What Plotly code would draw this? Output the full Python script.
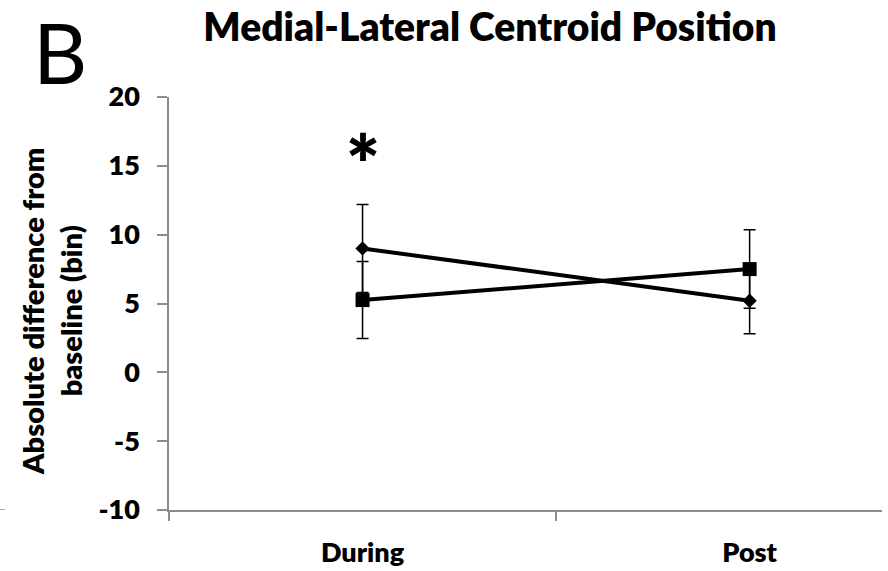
import plotly.graph_objects as go

categories = ["During", "Post"]
cat_pos = [0, 1]
diamond_vals = [9.0, 5.2]
diamond_err = [3.2, 2.4]
square_vals = [5.25, 7.5]
square_err = [2.8, 2.85]
y_ticks = [-10, -5, 0, 5, 10, 15, 20]
y_tick_text = ["-10", "-5", "0", "5", "10", "15", "20"]
x_dividers = [-0.5, 0.5]

FONT = "Lato"
GRAY = "#8c8c8c"
W = 800

fig = go.Figure()
fig.add_trace(go.Scatter(
    x=cat_pos, y=diamond_vals, mode="lines+markers",
    line=dict(color="black", width=4),
    marker=dict(symbol="diamond", size=11, color="black"),
    error_y=dict(type="data", array=diamond_err, visible=True, color="black", thickness=1.5, width=6),
    showlegend=False, cliponaxis=False,
))
fig.add_trace(go.Scatter(
    x=cat_pos, y=square_vals, mode="lines+markers",
    line=dict(color="black", width=4),
    marker=dict(symbol="square", size=14, color="black"),
    error_y=dict(type="data", array=square_err, visible=True, color="black", thickness=1.5, width=6),
    showlegend=False, cliponaxis=False,
))

xr = [-0.5, 1.342]
fig.update_layout(
    width=888, height=571,
    margin=dict(l=169, r=6, t=97, b=61, autoexpand=False),
    plot_bgcolor="white", paper_bgcolor="white",
    font=dict(family=FONT, color="black"),
    title=dict(text="Medial-Lateral Centroid Position", x=490/888, xanchor="center",
               xref="container", yref="container", y=1-14/571, yanchor="top",
               font=dict(family=FONT, size=39, weight=W, color="black")),
    xaxis=dict(range=xr, tickvals=cat_pos, ticktext=categories, ticks="",
               showline=True, linecolor=GRAY, linewidth=1.5, showgrid=False, zeroline=False,
               automargin=False,
               tickfont=dict(family=FONT, size=27, weight=W, color="black"),
               ticklabelstandoff=18),
    xaxis2=dict(range=xr, overlaying="x", anchor="y", side="bottom", tickvals=x_dividers,
                ticks="outside", ticklen=10, tickwidth=1.5, tickcolor=GRAY, automargin=False,
                showticklabels=False, showline=False, showgrid=False, zeroline=False),
    yaxis=dict(range=[-10, 20], tickvals=y_ticks, ticktext=y_tick_text, ticks="outside",
               ticklen=10, tickwidth=1.5, automargin=False,
               tickcolor=GRAY, showline=True, linecolor=GRAY, linewidth=1.5,
               showgrid=False, zeroline=False,
               tickfont=dict(family=FONT, size=27, weight=W, color="black"),
               ticklabelstandoff=12),
)
# invisible trace so the divider-tick axis renders
fig.add_trace(go.Scatter(x=[xr[0]], y=[-10], xaxis="x2", mode="markers",
                         marker=dict(opacity=0), showlegend=False, hoverinfo="skip"))

fig.add_annotation(text="Absolute difference from<br>baseline (bin)", textangle=-90,
                   xref="paper", yref="paper", x=(51-169)/713, y=(510-311)/413,
                   xanchor="center", yanchor="middle", showarrow=False,
                   font=dict(family=FONT, size=29, weight=W, color="black"))
fig.add_annotation(text="B", xref="paper", yref="paper", x=(60-169)/713, y=(510-52)/413,
                   xanchor="center", yanchor="middle", showarrow=False,
                   font=dict(family=FONT, size=84, color="black"))
fig.add_annotation(text="*", xref="x", yref="y", x=cat_pos[0], y=15.2,
                   xanchor="center", yanchor="middle", showarrow=False,
                   font=dict(family=FONT, size=80, weight=W, color="black"))
fig.add_shape(type="line", xref="paper", yref="y", x0=-169/713, x1=-164/713, y0=-10, y1=-10,
              line=dict(color=GRAY, width=1.5))

fig.write_html("out.html")
